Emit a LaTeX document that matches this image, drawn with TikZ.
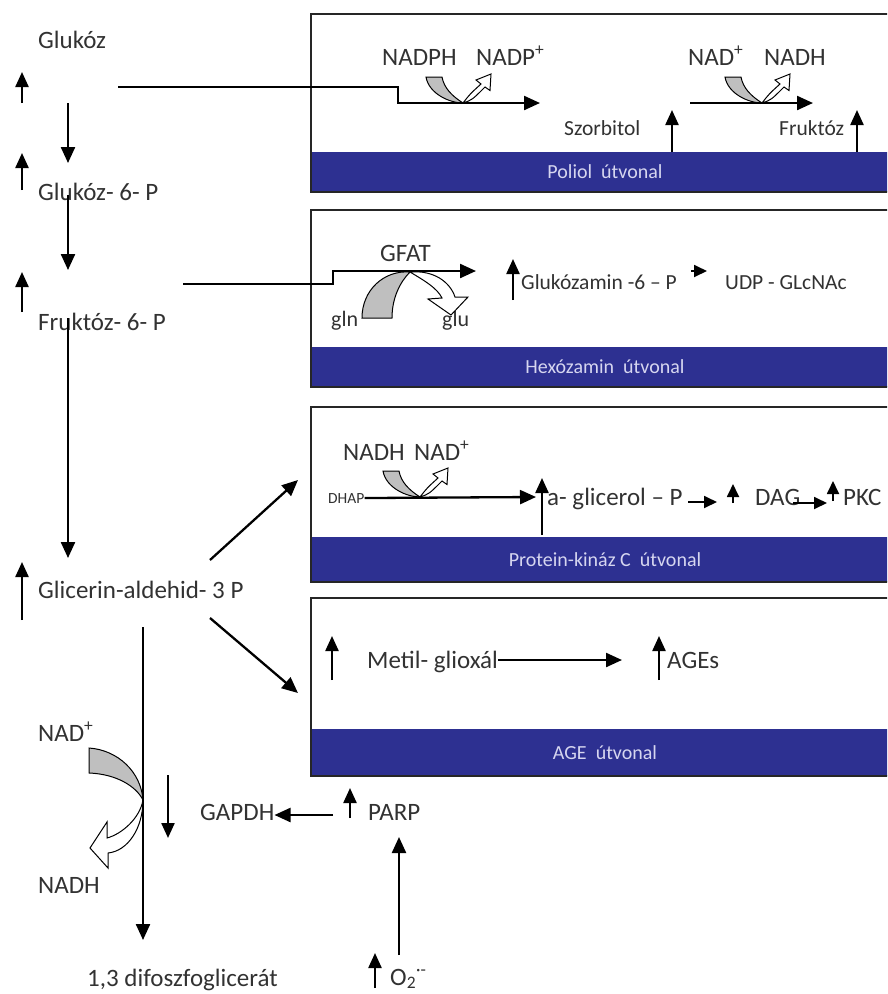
\documentclass[tikz,border=0pt]{standalone}
\usepackage{fontspec}
\setmainfont{Carlito}
\usetikzlibrary{arrows.meta}

\definecolor{barblue}{RGB}{45,48,145}
\definecolor{bartext}{RGB}{214,214,240}
\definecolor{txt}{RGB}{50,50,50}

\begin{document}
\begin{tikzpicture}[
  x=1pt, y=-1pt,
  lab/.style={font=\fontsize{25}{30}\selectfont, text=txt, inner sep=0pt},
  mid/.style={font=\fontsize{21.5}{26}\selectfont, text=txt, inner sep=0pt},
  smalllab/.style={font=\fontsize{22}{26}\selectfont, text=txt, inner sep=0pt},
  tinylab/.style={font=\fontsize{15.5}{18}\selectfont, text=txt, inner sep=0pt},
  bartxt/.style={font=\fontsize{20}{24}\selectfont, text=bartext, inner sep=0pt},
  arr/.style={line width=2.3pt, -{Triangle[length=16pt,width=14pt]}},
  inc/.style={line width=2.3pt, -{Triangle[length=15pt,width=13pt]}},
  sarr/.style={line width=1.8pt, -{Triangle[length=13pt,width=12pt]}},
  pathbox/.style={draw=black!85, line width=1.6pt},
  cofin/.style={fill=black!25, draw=black, line width=1pt},
  cofout/.style={fill=white, draw=black, line width=1pt, line join=miter},
  pics/redox/.style={code={
    \draw[cofin] (-37,-26) .. controls (-34,-9) and (-13,0) .. (0,0)
      .. controls (-11,-7) and (-19,-15) .. (-21,-26) -- cycle;
    \draw[cofout] (0,0) .. controls (7,-9) .. (18,-19) -- (13,-23)
      -- (28,-29) -- (27,-12.5) -- (22,-16) .. controls (9,-3) .. (0,0) -- cycle;
  }}
]
\useasboundingbox (0,0) rectangle (887,994);
\clip (0,0) rectangle (887,994);

% pathway boxes
\foreach \top/\bt/\bb/\nm/\lbl in {14/152/192/poliol/Poliol~~útvonal,
    210/347/387/hexoz/Hexózamin~~útvonal,
    407/537/582/pkcway/Protein-kináz C~~útvonal,
    598/729/776/ageway/AGE~~útvonal}{
  \fill[barblue] (311,\bt) rectangle (900,\bb);
  \draw[pathbox] (311,\top) rectangle (900,\bb);
  \node[bartxt] (\nm) at (605,{(\bt+\bb)/2}) {\lbl};
}

% glycolysis column
\node[lab, anchor=base west] (glc) at (38,48) {Glukóz};
\node[lab, anchor=base west] (g6p) at (38,200) {Glukóz- 6- P};
\node[lab, anchor=base west] (f6p) at (38,330) {Fruktóz- 6- P};
\node[lab, anchor=base west] (gap) at (38,598) {Glicerin-aldehid- 3 P};

% poliol
\node[lab, anchor=base west] (nadph) at (382,65) {NADPH};
\node[lab, anchor=base west] (nadp) at (476,65) {NADP\textsuperscript{+}};
\node[lab, anchor=base west] (nadA) at (688,65) {NAD\textsuperscript{+}};
\node[lab, anchor=base west] (nadhA) at (764,65) {NADH};
\node[mid, anchor=base west] (szorb) at (564,135) {Szorbitol};
\node[mid, anchor=base west] (frukt) at (779,135) {Fruktóz};

% hexozamin
\node[lab, anchor=base west] (gfat) at (380,261) {GFAT};
\node[smalllab, anchor=base west] (gln) at (331,326) {gln};
\node[smalllab, anchor=base west] (glu) at (442,326) {glu};
\node[mid, anchor=base west] (gln6p) at (521,289) {Glukózamin -6 – P};
\node[mid, anchor=base west] (udp) at (725,289) {UDP - GLcNAc};

% protein-kinaz C
\node[lab, anchor=base west] (nadhB) at (343,460) {NADH};
\node[lab, anchor=base west] (nadB) at (414,460) {NAD\textsuperscript{+}};
\node[tinylab, anchor=base west] (dhap) at (328,503) {DHAP};
\node[lab, anchor=base west] (agp) at (547,505) {a- glicerol – P};
\node[lab, anchor=base west] (dag) at (755,505) {DAG};
\node[lab, anchor=base west] (pkc) at (843,505) {PKC};

% AGE
\node[lab, anchor=base west] (mgo) at (367,668) {Metil- glioxál};
\node[lab, anchor=base west] (ages) at (667,668) {AGEs};

% lower part
\node[lab, anchor=base west] (nadC) at (38,741) {NAD\textsuperscript{+}};
\node[lab, anchor=base west] (nadhC) at (38,893) {NADH};
\node[lab, anchor=base west] (gapdh) at (200,820) {GAPDH};
\node[lab, anchor=base west] (parp) at (368,820) {PARP};
\node[lab, anchor=base west] (bpg) at (87,986) {1,3 difoszfoglicerát};
\node[lab, anchor=base west] (sox) at (390,985) {O\textsubscript{2}\textsuperscript{·-}};

% connector points
\coordinate (c1) at (68,103);  \coordinate (c2) at (68,163);
\coordinate (c3) at (68,195);  \coordinate (c4) at (68,270);
\coordinate (c5) at (68,318);  \coordinate (c6) at (68,558);
\coordinate (e1) at (118,87);  \coordinate (e2) at (398,87);
\coordinate (e3) at (398,103); \coordinate (e4) at (540,103);
\coordinate (e5) at (690,103); \coordinate (e6) at (813,103);
\coordinate (h1) at (183,284); \coordinate (h2) at (333,284);
\coordinate (h3) at (333,271); \coordinate (h4) at (476,271);
\coordinate (h5) at (691,271); \coordinate (h6) at (707,271);
\coordinate (k1) at (536,497);
\coordinate (k2) at (688,502); \coordinate (k3) at (717,502);
\coordinate (k4) at (793,503); \coordinate (k5) at (827,503);
\coordinate (m1) at (622,660);
\coordinate (b1) at (210,560); \coordinate (b2) at (298,480);
\coordinate (b3) at (210,618); \coordinate (b4) at (298,693);
\coordinate (d1) at (143,627); \coordinate (d2) at (143,940);
\coordinate (p1) at (333,815);
\coordinate (o1) at (399,955); \coordinate (o2) at (399,837);

% cofactor arrows
\pic at (463,103) {redox};
\pic at (762,103) {redox};
\pic at (420,497) {redox};
\draw[cofin] (362,318) .. controls (362,290) and (384,270) .. (410,272)
  .. controls (400,282) and (392,298) .. (392,318) -- cycle;
\draw[cofout] (410,272) .. controls (434,270) and (450,282) .. (455,297) -- (468,297)
  -- (451,315) -- (428,299) -- (442,298) .. controls (437,288) and (425,281) .. (410,272) -- cycle;
\draw[cofin] (89,748) .. controls (118,750) and (141,772) .. (143,800)
  .. controls (136,786) and (116,774) .. (89,773) -- cycle;
\draw[cofout] (143,800) .. controls (140,818) and (122,834) .. (107,838) -- (107,822)
  -- (90,848) -- (108,868) -- (108,853) .. controls (128,851) and (143,828) .. (143,800) -- cycle;

% main arrows
\draw[arr] (c1) -- (c2);
\draw[arr] (c3) -- (c4);
\draw[arr] (c5) -- (c6);
\draw[arr] (e1) -- (e2) -- (e3) -- (e4);
\draw[arr] (e5) -- (e6);
\draw[arr] (h1) -- (h2) -- (h3) -- (h4);
\draw[sarr] (h5) -- (h6);
\draw[arr] (dhap.east) -- (k1);
\draw[sarr] (k2) -- (k3);
\draw[sarr] (k4) -- (k5);
\draw[arr] (mgo.east |- m1) -- (m1);
\draw[arr] (b1) -- (b2);
\draw[arr] (b3) -- (b4);
\draw[arr] (d1) -- (d2);
\draw[arr] (p1) -- (gapdh.east |- p1);
\draw[arr] (o1) -- (o2);

% up / down markers
\foreach \x/\ya/\yb in {22/103/72, 22/190/153, 22/312/272, 22/620/562,
    672/152/110, 857/152/110, 513/300/259, 542/535/478,
    332/680/636, 659/680/636, 168/775/838, 350/818/788, 375/988/953}
  \draw[inc] (\x,\ya) -- (\x,\yb);
\draw[sarr] (733,503) -- (733,484);
\draw[sarr] (833,501) -- (833,481);
\end{tikzpicture}
\end{document}
